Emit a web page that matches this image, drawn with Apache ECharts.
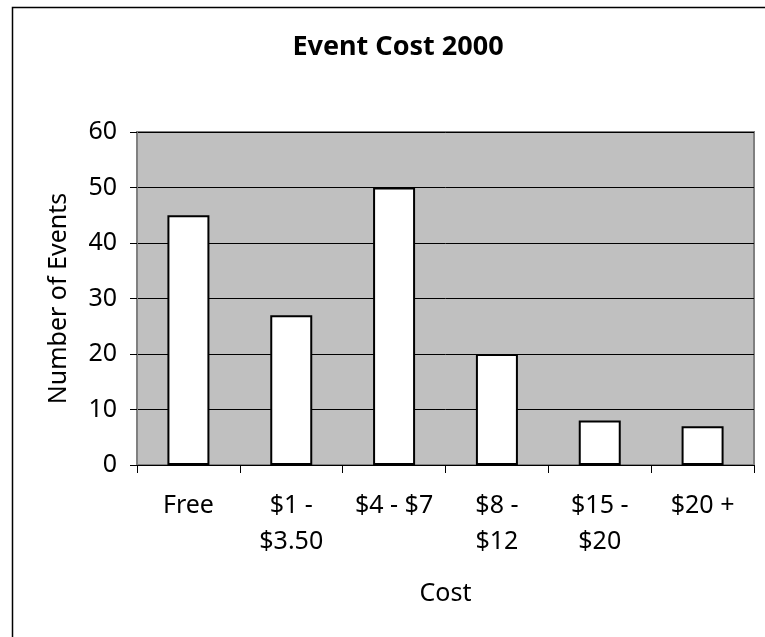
<!DOCTYPE html>
<html>
<head>
<meta charset="utf-8">
<style>html,body{margin:0;padding:0;background:#fff;}#c{width:765px;height:637px;}</style>
<script src="https://cdn.jsdelivr.net/npm/echarts@6/dist/echarts.min.js"></script>
</head>
<body>
<div id="c"></div>
<script>
var categories = ['Free', '$1 -\n$3.50', '$4 - $7', '$8 -\n$12', '$15 -\n$20', '$20 +'];
var values = [45, 27, 50, 20, 8, 7];
var yTicks = [0, 10, 20, 30, 40, 50, 60];
var titleText = 'Event Cost 2000';
var xName = 'Cost';
var yName = 'Number of Events';

var FONT = '"Noto Sans", "DejaVu Sans", sans-serif';
var chart = echarts.init(document.getElementById('c'), null, {renderer: 'canvas'});
chart.setOption({
  animation: false,
  backgroundColor: '#ffffff',
  textStyle: {fontFamily: FONT},
  title: {
    text: titleText,
    left: 393,
    textAlign: 'center',
    top: 29,
    textStyle: {fontFamily: FONT, fontSize: 27, fontWeight: 'bold', color: '#000'}
  },
  graphic: [{
    type: 'rect',
    shape: {x: 12.5, y: 7.5, width: 800, height: 700},
    style: {fill: 'none', stroke: '#000', lineWidth: 1.5},
    silent: true,
    z: -1
  }],
  grid: {
    left: 137, right: 11, top: 132, bottom: 172,
    show: true,
    backgroundColor: '#C0C0C0',
    borderColor: '#808080',
    borderWidth: 2,
    containLabel: false,
    outerBoundsMode: 'none'
  },
  xAxis: {
    type: 'category',
    data: categories,
    name: xName,
    nameLocation: 'middle',
    nameGap: 116,
    nameTextStyle: {fontFamily: FONT, fontSize: 25, color: '#000'},
    axisLine: {show: true, lineStyle: {color: '#000', width: 1}},
    axisTick: {show: true, length: 8, alignWithLabel: false, lineStyle: {color: '#000'}},
    axisLabel: {fontFamily: FONT, fontSize: 25, color: '#000', lineHeight: 36, margin: 23, interval: 0},
    splitLine: {show: false}
  },
  yAxis: {
    type: 'value',
    min: yTicks[0],
    max: yTicks[yTicks.length - 1],
    interval: 10,
    name: yName,
    nameLocation: 'middle',
    nameRotate: 90,
    nameGap: 66,
    nameTextStyle: {fontFamily: FONT, fontSize: 25, color: '#000'},
    axisLine: {show: true, lineStyle: {color: '#808080', width: 2}},
    axisTick: {show: true, length: 7, lineStyle: {color: '#000'}},
    axisLabel: {fontFamily: FONT, fontSize: 25, color: '#000', margin: 20},
    splitLine: {show: true, lineStyle: {color: '#000', width: 1}}
  },
  series: [{
    type: 'bar',
    data: values,
    barWidth: 42,
    itemStyle: {color: '#ffffff', borderColor: '#000', borderWidth: 2}
  }]
});
</script>
</body>
</html>
